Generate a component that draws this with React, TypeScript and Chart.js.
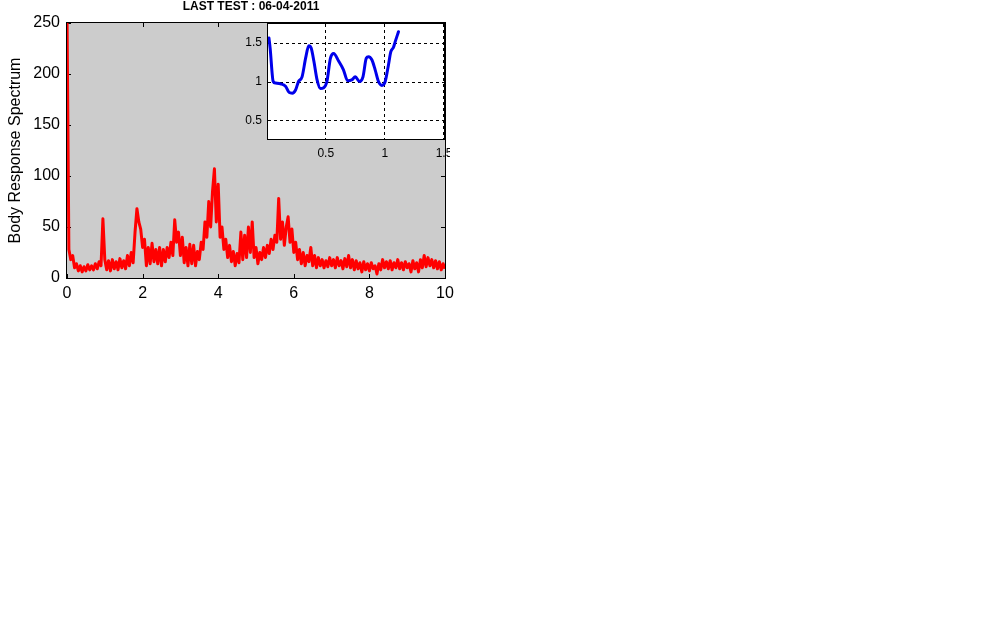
import React, { useEffect, useRef } from "react";
import { Chart, registerables } from "chart.js";
Chart.register(...registerables);

const TITLE = "LAST TEST : 06-04-2011";
const Y_LABEL = "Body Response Spectrum";
const X_TICKS = [0, 2, 4, 6, 8, 10];
const Y_TICKS = [0, 50, 100, 150, 200, 250];
const FREQ_START = 0;
const FREQ_STEP = 0.05;
// spectrum values, one per FREQ_STEP from 0 to 10
const SPECTRUM = [
  260, 28, 18, 22, 10, 14, 7, 12, 6, 11,
  7, 13, 8, 12, 8, 14, 9, 16, 12, 58,
  18, 8, 17, 7, 18, 9, 16, 8, 19, 10,
  17, 9, 22, 12, 25, 15, 45, 68, 55, 48,
  30, 38, 12, 30, 14, 34, 16, 28, 14, 30,
  12, 28, 16, 30, 20, 35, 22, 57, 35, 45,
  22, 40, 15, 30, 12, 33, 14, 32, 12, 26,
  18, 35, 28, 55, 40, 75, 50, 85, 107, 55,
  92, 40, 50, 28, 38, 20, 32, 16, 26, 12,
  24, 15, 45, 18, 42, 20, 50, 25, 55, 20,
  30, 14, 25, 18, 30, 20, 32, 24, 38, 28,
  42, 35, 78, 38, 55, 32, 50, 60, 35, 48,
  25, 35, 18, 28, 14, 25, 12, 22, 16, 30,
  12, 22, 10, 20, 12, 18, 10, 17, 11, 20,
  12, 18, 10, 20, 12, 17, 9, 19, 11, 22,
  10, 18, 8, 17, 9, 15, 6, 16, 8, 14,
  7, 15, 9, 12, 4, 14, 8, 18, 10, 16,
  9, 17, 8, 15, 10, 18, 9, 15, 8, 16,
  10, 14, 6, 17, 9, 15, 6, 18, 10, 22,
  11, 20, 12, 18, 10, 17, 9, 16, 8, 14,
  9,
];

const INSET_X = [
  0.02, 0.03, 0.056, 0.076, 0.118, 0.16, 0.19, 0.217, 0.245, 0.27,
  0.3, 0.33, 0.357, 0.377, 0.4, 0.427, 0.455, 0.483, 0.51, 0.54,
  0.567, 0.61, 0.65, 0.685, 0.72, 0.75, 0.786, 0.815, 0.843, 0.862,
  0.89, 0.918, 0.946, 0.975, 1.003, 1.03, 1.05, 1.073, 1.087, 1.115,
];
const INSET_Y = [
  1.56, 1.43, 1.0, 0.98, 0.97, 0.94, 0.86, 0.85, 0.89, 1.0,
  1.06, 1.3, 1.46, 1.43, 1.26, 1.02, 0.91, 0.92, 1.0, 1.3,
  1.36, 1.26, 1.15, 1.01, 1.02, 1.06, 1.0, 1.06, 1.3, 1.32,
  1.28, 1.15, 1.0, 0.95, 1.0, 1.21, 1.38, 1.44, 1.51, 1.64,
];
const INSET_X_TICKS = [0.5, 1, 1.5];
const INSET_Y_TICKS = [0.5, 1, 1.5];

const FONT = '"Liberation Sans", Arial, Helvetica, sans-serif';

const mainDecor = {
  id: "mainDecor",
  beforeDraw(chart: any) {
    const { ctx, chartArea: a } = chart;
    ctx.save();
    ctx.fillStyle = "#cccccc";
    ctx.fillRect(a.left, a.top, a.right - a.left, a.bottom - a.top);
    ctx.restore();
  },
  beforeDatasetsDraw(chart: any) {
    const { ctx, chartArea: a, scales } = chart;
    ctx.save();
    ctx.strokeStyle = "#000";
    ctx.lineWidth = 1;
    ctx.strokeRect(a.left - 0.5, a.top - 0.5, a.right - a.left + 1, a.bottom - a.top + 1);
    const tl = 4;
    ctx.beginPath();
    X_TICKS.forEach((v) => {
      const px = Math.round(scales.x.getPixelForValue(v)) + 0.5;
      ctx.moveTo(px, a.bottom);
      ctx.lineTo(px, a.bottom - tl);
      ctx.moveTo(px, a.top);
      ctx.lineTo(px, a.top + tl);
    });
    Y_TICKS.forEach((v) => {
      const py = Math.round(scales.y.getPixelForValue(v)) + 0.5;
      ctx.moveTo(a.left, py);
      ctx.lineTo(a.left + tl, py);
      ctx.moveTo(a.right, py);
      ctx.lineTo(a.right - tl, py);
    });
    ctx.stroke();
    ctx.restore();
  },
  afterDraw(chart: any) {
    const { ctx, chartArea: a } = chart;
    ctx.save();
    ctx.fillStyle = "#000";
    ctx.font = `bold 12px ${FONT}`;
    ctx.textAlign = "center";
    ctx.textBaseline = "middle";
    ctx.fillText(TITLE, 251, 6.5);
    ctx.translate(16, (a.top + a.bottom) / 2);
    ctx.rotate(-Math.PI / 2);
    ctx.font = `16px ${FONT}`;
    ctx.fillText(Y_LABEL, 0, 0);
    ctx.restore();
  },
};

const insetDecor = {
  id: "insetDecor",
  beforeDraw(chart: any) {
    const { ctx, chartArea: a } = chart;
    ctx.save();
    ctx.fillStyle = "#ffffff";
    ctx.fillRect(a.left, a.top, a.right - a.left, a.bottom - a.top);
    ctx.restore();
  },
  beforeDatasetsDraw(chart: any) {
    const { ctx, chartArea: a, scales } = chart;
    ctx.save();
    ctx.strokeStyle = "#000";
    ctx.lineWidth = 1;
    ctx.setLineDash([3, 3]);
    ctx.beginPath();
    INSET_X_TICKS.forEach((v) => {
      const px = Math.round(scales.x.getPixelForValue(v)) - 0.5;
      ctx.moveTo(px, a.top);
      ctx.lineTo(px, a.bottom);
    });
    INSET_Y_TICKS.forEach((v) => {
      const py = Math.round(scales.y.getPixelForValue(v)) + 0.5;
      ctx.moveTo(a.left, py);
      ctx.lineTo(a.right, py);
    });
    ctx.stroke();
    ctx.setLineDash([]);
    ctx.strokeRect(a.left - 0.5, a.top - 0.5, a.right - a.left + 1, a.bottom - a.top + 1);
    ctx.restore();
  },
};

export default function App() {
  const mainRef = useRef<HTMLCanvasElement>(null);
  const insetRef = useRef<HTMLCanvasElement>(null);

  useEffect(() => {
    const mainPoints = SPECTRUM.map((v, i) => ({ x: FREQ_START + i * FREQ_STEP, y: v }));
    const insetPoints = INSET_X.map((x, i) => ({ x, y: INSET_Y[i] }));

    const main = new Chart(mainRef.current!, {
      type: "line",
      data: {
        datasets: [
          {
            data: mainPoints,
            borderColor: "rgb(255,0,0)",
            borderWidth: 3,
            pointRadius: 0,
            tension: 0,
            borderJoinStyle: "round",
          },
        ],
      },
      options: {
        responsive: false,
        animation: false,
        layout: { padding: { top: 23, right: 15, left: 0, bottom: 0 } },
        plugins: { legend: { display: false }, tooltip: { enabled: false }, title: { display: false } },
        scales: {
          x: {
            type: "linear",
            min: 0,
            max: 10,
            afterBuildTicks: (s: any) => {
              s.ticks = X_TICKS.map((v) => ({ value: v }));
            },
            afterFit: (s: any) => {
              s.height = 27;
              s.paddingLeft = 0;
              s.paddingRight = 0;
            },
            grid: { display: false, drawTicks: false },
            border: { display: false },
            ticks: {
              font: { family: FONT, size: 16 },
              color: "#000",
              padding: 6,
              maxRotation: 0,
              autoSkip: false,
              callback: (v: any) => String(v),
            },
          },
          y: {
            type: "linear",
            min: 0,
            max: 250,
            afterBuildTicks: (s: any) => {
              s.ticks = Y_TICKS.map((v) => ({ value: v }));
            },
            afterFit: (s: any) => {
              s.width = 67;
              s.paddingTop = 0;
              s.paddingBottom = 0;
            },
            grid: { display: false, drawTicks: false },
            border: { display: false },
            ticks: {
              font: { family: FONT, size: 16 },
              color: "#000",
              padding: 7,
              autoSkip: false,
              callback: (v: any) => String(v),
            },
          },
        },
      },
      plugins: [mainDecor],
    } as any);

    const inset = new Chart(insetRef.current!, {
      type: "line",
      data: {
        datasets: [
          {
            data: insetPoints,
            borderColor: "rgb(0,0,235)",
            borderWidth: 3,
            pointRadius: 0,
            cubicInterpolationMode: "monotone",
            borderJoinStyle: "round",
            borderCapStyle: "round",
          },
        ],
      },
      options: {
        responsive: false,
        animation: false,
        layout: { padding: { top: 10, right: 6, left: 0, bottom: 0 } },
        plugins: { legend: { display: false }, tooltip: { enabled: false } },
        scales: {
          x: {
            type: "linear",
            min: 0.012,
            max: 1.5,
            afterBuildTicks: (s: any) => {
              s.ticks = INSET_X_TICKS.map((v) => ({ value: v }));
            },
            afterFit: (s: any) => {
              s.height = 25;
              s.paddingLeft = 0;
              s.paddingRight = 0;
            },
            grid: { display: false, drawTicks: false },
            border: { display: false },
            ticks: {
              font: { family: FONT, size: 12 },
              color: "#000",
              padding: 7,
              maxRotation: 0,
              autoSkip: false,
              callback: (v: any) => String(v),
            },
          },
          y: {
            type: "linear",
            min: 0.26,
            max: 1.74,
            afterBuildTicks: (s: any) => {
              s.ticks = INSET_Y_TICKS.map((v) => ({ value: v }));
            },
            afterFit: (s: any) => {
              s.width = 40;
              s.paddingTop = 0;
              s.paddingBottom = 0;
            },
            grid: { display: false, drawTicks: false },
            border: { display: false },
            ticks: {
              font: { family: FONT, size: 12 },
              color: "#000",
              padding: 6,
              autoSkip: false,
              callback: (v: any) => String(v),
            },
          },
        },
      },
      plugins: [insetDecor],
    } as any);

    return () => {
      main.destroy();
      inset.destroy();
    };
  }, []);

  return (
    <div style={{ position: "fixed", left: 0, top: 0, width: 990, height: 625, background: "#fff" }}>
      <canvas
        ref={mainRef}
        width={460}
        height={305}
        style={{ position: "absolute", left: 0, top: 0, width: 460, height: 305 }}
      />
      <canvas
        ref={insetRef}
        width={222}
        height={150}
        style={{ position: "absolute", left: 228, top: 14, width: 222, height: 150 }}
      />
    </div>
  );
}
